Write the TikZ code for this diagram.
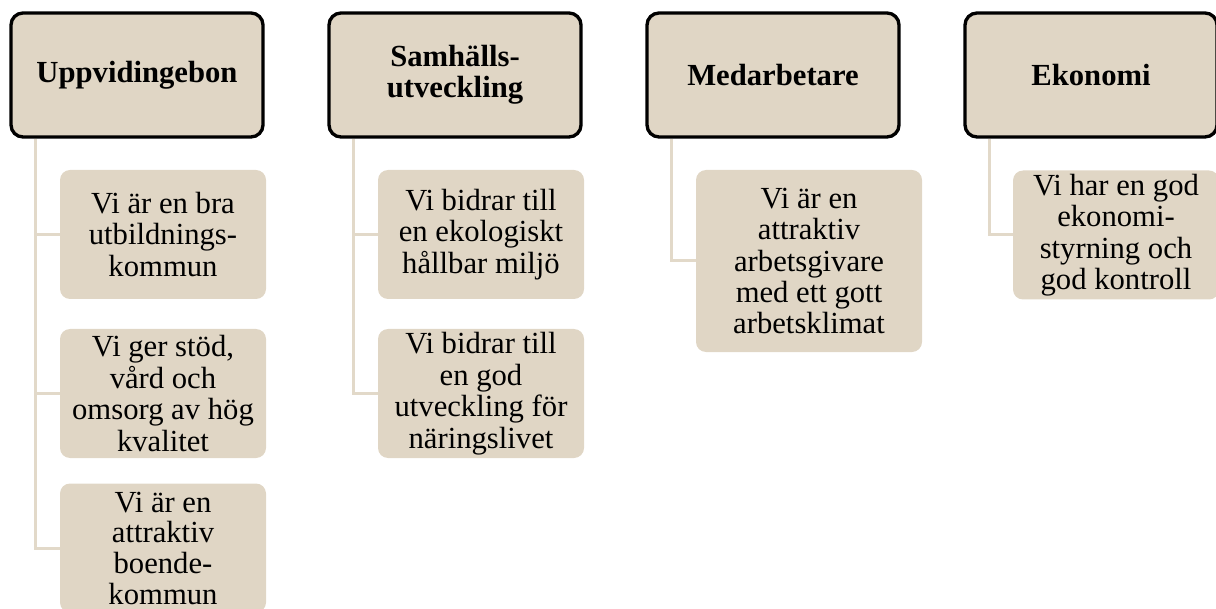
\documentclass[tikz,border=0pt]{standalone}
\usepackage{fontspec}
\setmainfont{Liberation Serif}
\usetikzlibrary{backgrounds}

\definecolor{tanfill}{RGB}{224,214,197}
\definecolor{tanline}{RGB}{226,217,201}

\tikzset{every picture/.style={line width=0.75pt}}
\tikzset{
  head/.style={draw=black, line width=2.5pt, fill=tanfill, rounded corners=9pt,
    minimum width=189pt, minimum height=93pt, inner sep=0pt, align=center,
    font=\fontsize{23}{23.5}\selectfont\bfseries},
  goal/.style={fill=tanfill, rounded corners=7.5pt, minimum width=154.5pt,
    minimum height=96.75pt, inner sep=0pt, align=center,
    font=\fontsize{23}{23.6}\selectfont},
  link/.style={draw=tanline, line width=2.25pt},
}

\begin{document}
\begin{tikzpicture}[x=0.75pt,y=0.75pt,yscale=-1,xscale=1]
\useasboundingbox (0,0) rectangle (1216,609);
\clip (0,0) rectangle (1216,609);

% Header Nodes
\node[head] (hd1) at (137,75) {Uppvidingebon};
\node[head] (hd2) at (455,75) {Samhälls-\\utveckling};
\node[head] (hd3) at (773,75) {Medarbetare};
\node[head] (hd4) at (1091,75) {Ekonomi};

% Goal Nodes
\node[goal] (gl11) at (163,234.5) {Vi är en bra\\utbildnings-\\kommun};
\node[goal] (gl12) at (163,393.5) {Vi ger stöd,\\vård och\\omsorg av hög\\kvalitet};
\node[goal, font=\fontsize{23}{23}\selectfont] (gl13) at (163,548) {Vi är en\\attraktiv\\boende-\\kommun};
\node[goal] (gl21) at (481,234.5) {Vi bidrar till\\en ekologiskt\\hållbar miljö};
\node[goal] (gl22) at (481,393.5) {Vi bidrar till\\en god\\utveckling för\\näringslivet};
\node[goal, minimum width=169.5pt, minimum height=136.5pt] (gl31) at (809,261) {Vi är en\\attraktiv\\arbetsgivare\\med ett gott\\arbetsklimat};
\node[goal] (gl41) at (1116,235) {Vi har en god\\ekonomi-\\styrning och\\god kontroll};

% Connectors
\begin{scope}[on background layer]
\draw[link] ([xshift=-76.5pt]hd1.south) |- (gl11.west);
\draw[link] ([xshift=-76.5pt]hd1.south) |- (gl12.west);
\draw[link] ([xshift=-76.5pt]hd1.south) |- (gl13.west);
\draw[link] ([xshift=-76.5pt]hd2.south) |- (gl21.west);
\draw[link] ([xshift=-76.5pt]hd2.south) |- (gl22.west);
\draw[link] ([xshift=-76.5pt]hd3.south) |- (gl31.west);
\draw[link] ([xshift=-76.5pt]hd4.south) |- (gl41.west);
\end{scope}

\end{tikzpicture}
\end{document}
